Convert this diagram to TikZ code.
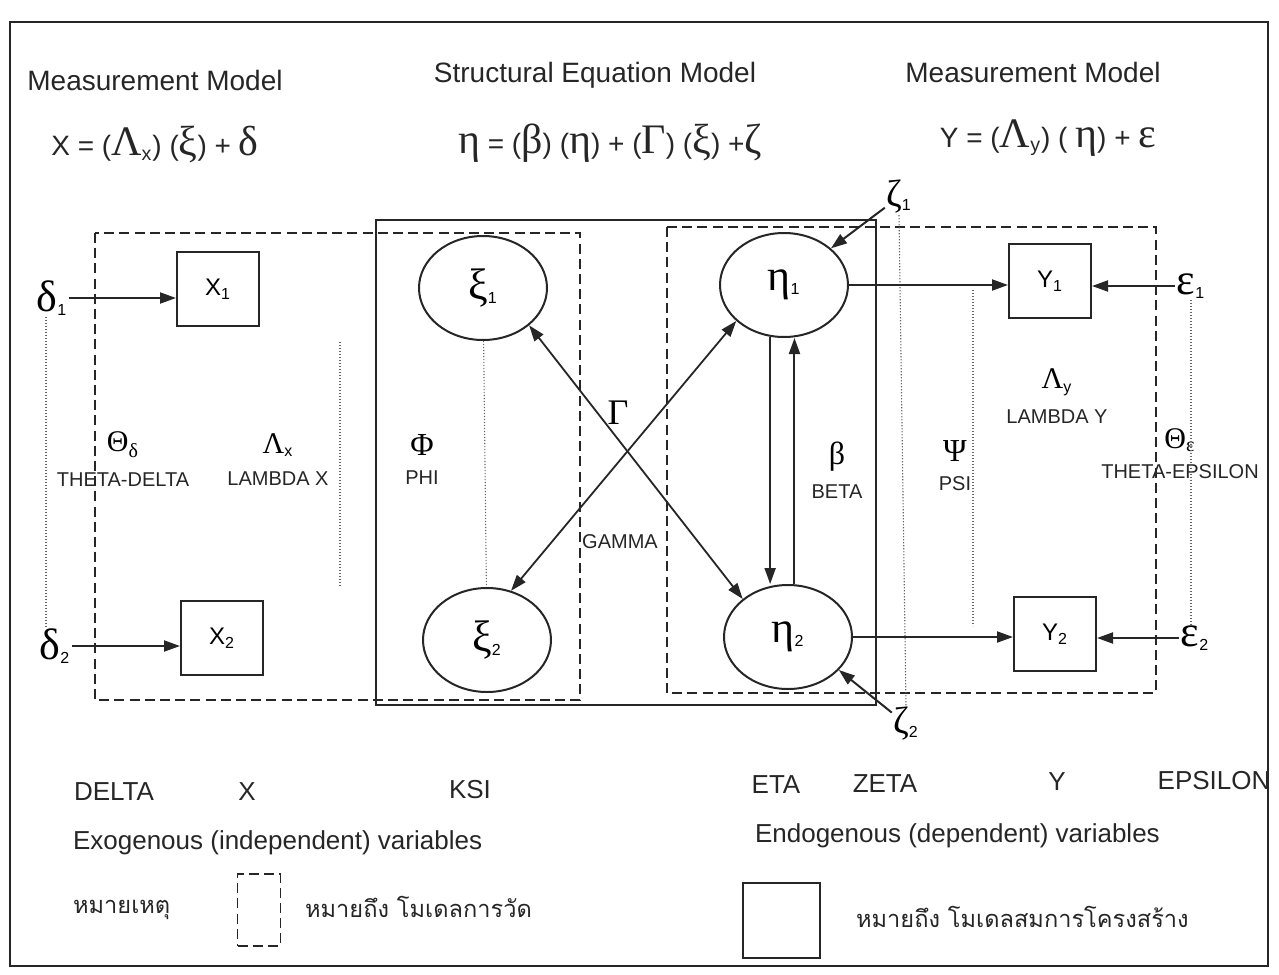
\documentclass[tikz,border=0pt]{standalone}
\usepackage{fontspec}
\setmainfont{Liberation Sans}
\newfontfamily\grkfont{Liberation Serif}
\newfontfamily\thaifont[Script=Thai]{Loma}
\usetikzlibrary{shapes.geometric, arrows.meta, positioning}

% greek letters in the serif face, optional size
\newcommand\gk[2][22]{{\grkfont\fontsize{#1}{#1}\selectfont #2}}

\begin{document}
\begin{tikzpicture}[
  x=0.5pt, y=-0.5pt,
  font=\fontsize{12}{14}\selectfont,
  arr/.style={-{Triangle[length=8pt,width=5.5pt]}, line width=1pt, draw=black!85},
  darr/.style={{Triangle[length=8pt,width=5.5pt]}-{Triangle[length=8pt,width=5.5pt]},
               line width=0.9pt, draw=black!85},
  dotline/.style={draw=black!60, line width=0.55pt, dash pattern=on 0.6pt off 0.9pt},
  dashbox/.style={draw=black!85, line width=0.9pt, dash pattern=on 5pt off 2.6pt},
  obs/.style={draw=black!85, line width=1pt, minimum width=41pt,
              minimum height=37pt, inner sep=0pt},
  lat/.style={draw=black!85, ellipse, line width=1pt, minimum width=64pt,
              minimum height=52pt, inner sep=0pt},
  err/.style={inner sep=0.5pt},
  mtx/.style={inner sep=1pt},
  lbl/.style={font=\fontsize{10}{12}\selectfont, inner sep=1pt, text=black!85},
  title/.style={font=\fontsize{14}{16}\selectfont, text=black!85},
  foot/.style={font=\fontsize{13}{15}\selectfont, text=black!85},
  thai/.style={font=\thaifont\fontsize{11.8}{14}\selectfont, text=black!85, anchor=west}
]
\useasboundingbox (0,0) rectangle (1279,974);
\draw[line width=1.1pt, draw=black!85] (10,22) rectangle (1268,966);

%% headings and equations
\node[title] (hx) at (155,80) {Measurement Model};
\node[title] (hs) at (595,75) {Structural Equation Model};
\node[title] (hy) at (1033,72) {Measurement Model};
\node[title] (eqx) at (155,145) {X = (\gk[21]{Λ}\textsubscript{x}) (\gk[21]{ξ}) + \gk[21]{δ}};
\node[title] (eqs) at (610,143)
  {\gk[21]{η} = (\gk[21]{β}) (\gk[21]{η}) + (\gk[21]{Γ}) (\gk[21]{ξ}) +\gk[21]{ζ}};
\node[title] (eqy) at (1048,138)
  {Y = (\gk[21]{Λ}\textsubscript{y}) ( \gk[21]{η}) + \gk[21]{ε}};

%% model frames
\draw[line width=1pt, draw=black!85] (376,220) rectangle (876,705);
\draw[dashbox] (95,233) rectangle (580,700);
\draw[dashbox] (667,227) rectangle (1156,693);

%% variables
\node[err] (d1) at (52,298) {\gk{δ}\textsubscript{1}};
\node[err] (d2) at (55,646) {\gk{δ}\textsubscript{2}};
\node[obs] (x1) at (218,289) {X\textsubscript{1}};
\node[obs] (x2) at (222,638) {X\textsubscript{2}};
\node[lat] (xi1) at (483,288) {\gk{ξ}\textsubscript{1}};
\node[lat] (xi2) at (487,640) {\gk{ξ}\textsubscript{2}};
\node[lat] (eta1) at (784,285) {\gk{η}\textsubscript{1}};
\node[lat] (eta2) at (788,637) {\gk{η}\textsubscript{2}};
\node[obs] (y1) at (1050,281) {Y\textsubscript{1}};
\node[obs] (y2) at (1055,634) {Y\textsubscript{2}};
\node[err] (e1) at (1191,286) {\gk{ε}\textsubscript{1}};
\node[err] (e2) at (1195,638) {\gk{ε}\textsubscript{2}};
\node[err] (z1) at (899,197) {\gk[19]{ζ}\textsubscript{1}};
\node[err] (z2) at (906,724) {\gk[19]{ζ}\textsubscript{2}};

%% parameter matrices
\node[mtx] (thd) at (123,445) {\gk[15]{Θ}\textsubscript{\gk[10]{δ}}};
\node[lbl, below=5pt of thd] (thdl) {THETA-DELTA};
\node[mtx] (lmx) at (278,445) {\gk[15]{Λ}\textsubscript{x}};
\node[lbl, below=5pt of lmx] (lmxl) {LAMBDA X};
\node[mtx] (phi) at (422,445) {\gk[16]{Φ}};
\node[lbl, below=5pt of phi] (phil) {PHI};
\node[mtx] (gam) at (618,413) {\gk[18]{Γ}};
\node[lbl] (gaml) at (620,542) {GAMMA};
\node[mtx] (bet) at (837,457) {\gk[16]{β}};
\node[lbl, below=4pt of bet] (betl) {BETA};
\node[mtx] (psi) at (955,451) {\gk[16]{Ψ}};
\node[lbl, below=5pt of psi] (psil) {PSI};
\node[mtx] (lmy) at (1057,382) {\gk[15]{Λ}\textsubscript{y}};
\node[lbl, below=5pt of lmy] (lmyl) {LAMBDA Y};
\node[mtx] (the) at (1180,440) {\gk[15]{Θ}\textsubscript{\gk[10]{ε}}};
\node[lbl, below=4pt of the] (thel) {THETA-EPSILON};

%% dotted covariances
\coordinate (lxa) at (340,342); \coordinate (lxb) at (340,587);
\coordinate (psa) at (973,290); \coordinate (psb) at (973,626);
\draw[dotline] ([xshift=-3pt]d1.south) -- ([xshift=-3pt]d1.south |- d2.north);
\draw[dotline] (lxa) -- (lxb);
\draw[dotline] (xi1) -- (xi2);
\draw[dotline] (z1.south) -- (z2.north);
\draw[dotline] (psa) -- (psb);
\draw[dotline] (e1.south) -- (e1.south |- e2.north);

%% paths
\draw[arr] (d1) -- (d1 -| x1.west);
\draw[arr] (d2) -- (d2 -| x2.west);
\draw[darr] (xi1.-39) -- (eta2.140);
\draw[darr] (eta1.217) -- (xi2.64);
\draw[arr] (eta1.-105) -- (eta1.-105 |- eta2.north);
\draw[arr] (eta2.83) -- (eta2.83 |- eta1.south);
\draw[arr] (eta1) -- (eta1 -| y1.west);
\draw[arr] (eta2) -- (eta2 -| y2.west);
\draw[arr] (e1) -- (e1 -| y1.east);
\draw[arr] (e2) -- (e2 -| y2.east);
\draw[arr] (z1) -- (eta1.38);
\draw[arr] (z2) -- (eta2.-33);

%% legend
\node[foot] (fdel) at (114,792) {DELTA};
\node[foot] (fx) at (247,792) {X};
\node[foot] (fksi) at (470,790) {KSI};
\node[foot] (feta) at (776,785) {ETA};
\node[foot] (fzet) at (885,784) {ZETA};
\node[foot] (fy) at (1057,782) {Y};
\node[foot] (feps) at (1214,781) {EPSILON};
\node[foot, anchor=west] (exo) at (66,843) {Exogenous (independent) variables};
\node[foot, anchor=west] (endo) at (748,836) {Endogenous (dependent) variables};
\node[thai] (note) at (66,910) {หมายเหตุ};
\node[dashbox, minimum width=21.5pt, minimum height=36pt] (legm) at (259,910) {};
\node[thai] (legmt) at (298,907) {หมายถึง โมเดลการวัด};
\node[draw=black!85, line width=1pt, minimum width=38.5pt,
      minimum height=37.5pt] (legs) at (781,920) {};
\node[thai] (legst) at (849,917) {หมายถึง โมเดลสมการโครงสร้าง};
\end{tikzpicture}
\end{document}
